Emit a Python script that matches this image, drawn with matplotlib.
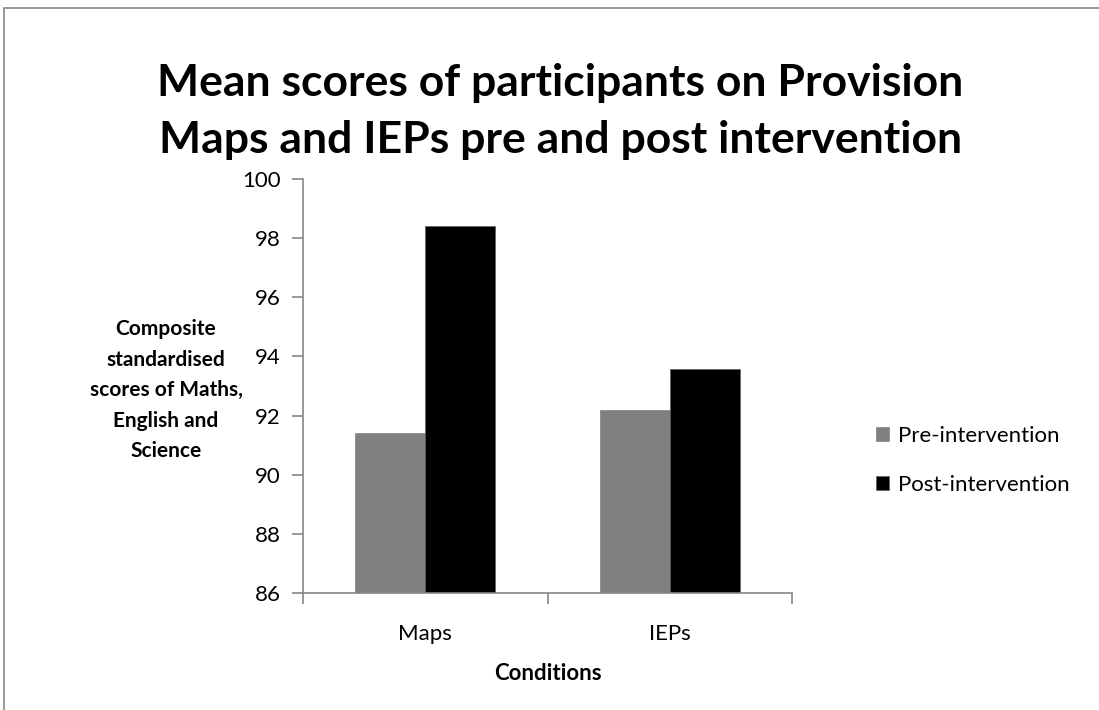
import numpy as np
import matplotlib.pyplot as plt
from matplotlib.patches import Rectangle

# Datos
categorias = ['Maps', 'IEPs']
series = ['Pre-intervention', 'Post-intervention']
pre = [91.4, 92.18]
post = [98.42, 93.56]
colores = ['#808080', '#000000']
yticks = [86, 88, 90, 92, 94, 96, 98, 100]

plt.rcParams['font.family'] = ['Lato', 'DejaVu Sans']
gris_eje = '#868686'

fig = plt.figure(figsize=(10.99, 7.10), dpi=100)
ax = fig.add_axes([0.2757, 0.1648, 0.4450, 0.5831])

# borde del grafico
fig.patches.append(Rectangle((4 / 1099, -0.1), 1.2, 1.1 - 8 / 710,
                             transform=fig.transFigure, fill=False,
                             edgecolor=gris_eje, linewidth=1.2))

x = np.arange(len(categorias))
ancho = 1 / 3.5
ax.bar(x - ancho / 2, pre, ancho, color=colores[0], label=series[0],
       edgecolor=colores[0], linewidth=0.5)
ax.bar(x + ancho / 2, post, ancho, color=colores[1], label=series[1],
       edgecolor='#606060', linewidth=0.5)

ax.set_xlim(-0.5, 1.5)
ax.set_ylim(86, 100)
ax.set_yticks(yticks)
ax.set_yticklabels([str(v) for v in yticks], fontsize=16)
ax.set_xticks([-0.5, 0.5, 1.5])
ax.set_xticklabels([])
ax.set_xticks(x, minor=True)
ax.set_xticklabels(categorias, minor=True, fontsize=16)
ax.tick_params(axis='x', which='minor', length=0, pad=22)
ax.tick_params(axis='x', which='major', length=8, color=gris_eje, width=1.2)
ax.tick_params(axis='y', length=8, color=gris_eje, width=1.2, pad=8)

for lado in ['top', 'right']:
    ax.spines[lado].set_visible(False)
for lado in ['left', 'bottom']:
    ax.spines[lado].set_color(gris_eje)
    ax.spines[lado].set_linewidth(1.2)

ax.set_xlabel('Conditions', fontsize=16, fontweight='bold', labelpad=14)
ax.set_ylabel('Composite\nstandardised\nscores of Maths,\nEnglish and\nScience',
              fontsize=15, fontweight='bold', rotation=0, ha='center',
              va='center', linespacing=1.65)
ax.yaxis.set_label_coords(-0.28, 0.49)

fig.suptitle('Mean scores of participants on Provision\nMaps and IEPs pre and post intervention',
             x=0.51, y=0.843, va='center', fontsize=32, fontweight='bold',
             linespacing=1.5)

ax.legend(loc='center left', bbox_to_anchor=(1.13, 0.32), frameon=False,
          fontsize=16, handlelength=0.6, handleheight=0.6, handletextpad=0.4,
          labelspacing=1.3)

fig.savefig('out.png', dpi=100)
